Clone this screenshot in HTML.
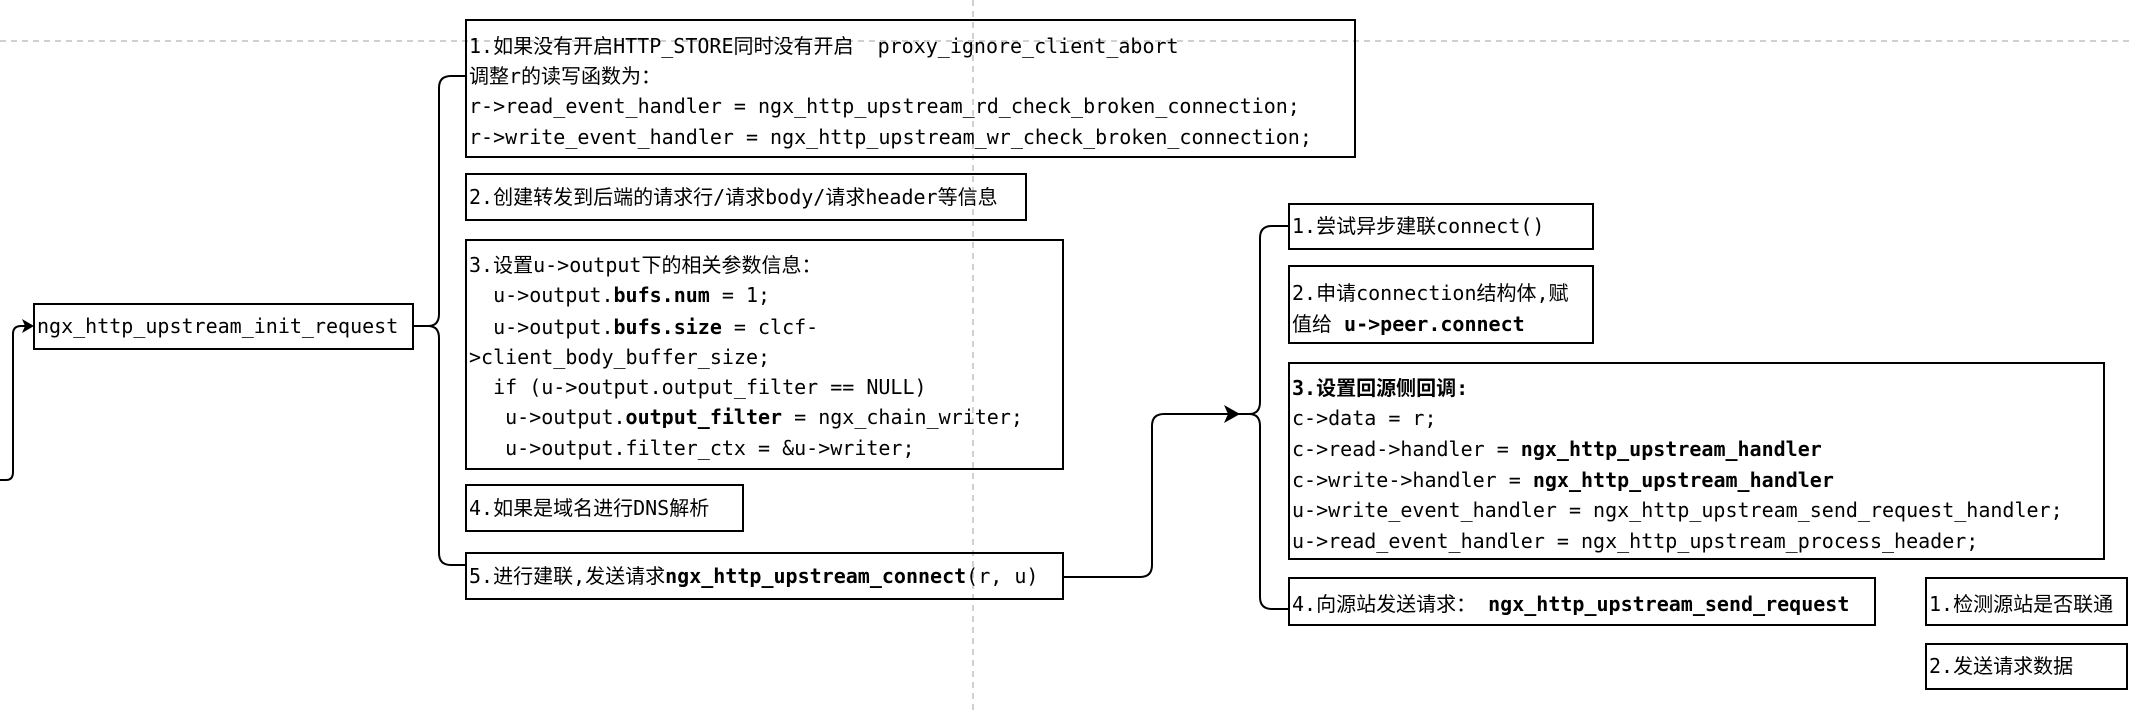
<!DOCTYPE html>
<html><head><meta charset="utf-8"><style>
html,body{margin:0;padding:0;background:#fff;}
svg{display:block;}
text{font-family:"DejaVu Sans Mono","Noto Sans CJK SC",monospace;font-size:20px;fill:#000;white-space:pre;}
.b{font-weight:bold;}
rect{fill:none;stroke:#000;stroke-width:2;}
path.c{fill:none;stroke:#000;stroke-width:2;}
</style></head><body>
<svg width="2130" height="712" viewBox="0 0 2130 712" xmlns="http://www.w3.org/2000/svg" xml:space="preserve">
<!-- dashed guides -->
<line x1="0" y1="41" x2="2130" y2="41" stroke="#c0c0c0" stroke-width="1.5" stroke-dasharray="6 5"/>
<line x1="973" y1="0" x2="973" y2="712" stroke="#c0c0c0" stroke-width="1.5" stroke-dasharray="6 5"/>

<!-- incoming left connector -->
<path class="c" d="M0 480 L6 480 Q13 480 13 472 L13 334 Q13 326 21 326 L28 326"/>
<path d="M34 326 L22 319 L25 326 L22 333 Z" fill="#000"/>

<!-- left node -->
<rect x="34" y="304" width="379" height="45"/>
<text x="37" y="333">ngx_http_upstream_init_request</text>

<!-- left bracket -->
<path class="c" d="M413 326 L428 326 Q439 326 439 314 L439 88 Q439 76 451 76 L466 76"/>
<path class="c" d="M428 326 Q439 326 439 338 L439 553 Q439 565 451 565 L466 565"/>

<!-- box1 -->
<rect x="466" y="20" width="889" height="137"/>
<text x="469" y="53">1.如果没有开启HTTP_STORE同时没有开启  proxy_ignore_client_abort</text>
<text x="469" y="83">调整r的读写函数为：</text>
<text x="469" y="113">r-&gt;read_event_handler = ngx_http_upstream_rd_check_broken_connection;</text>
<text x="469" y="144">r-&gt;write_event_handler = ngx_http_upstream_wr_check_broken_connection;</text>

<!-- box2 -->
<rect x="466" y="174" width="560" height="46"/>
<text x="469" y="204">2.创建转发到后端的请求行/请求body/请求header等信息</text>

<!-- box3 -->
<rect x="466" y="240" width="597" height="229"/>
<text x="469" y="272">3.设置u-&gt;output下的相关参数信息：</text>
<text x="469" y="302">  u-&gt;output.<tspan class="b">bufs.num</tspan> = 1;</text>
<text x="469" y="334">  u-&gt;output.<tspan class="b">bufs.size</tspan> = clcf-</text>
<text x="469" y="364">&gt;client_body_buffer_size;</text>
<text x="469" y="394">  if (u-&gt;output.output_filter == NULL)</text>
<text x="469" y="424">   u-&gt;output.<tspan class="b">output_filter</tspan> = ngx_chain_writer;</text>
<text x="469" y="455">   u-&gt;output.filter_ctx = &amp;u-&gt;writer;</text>

<!-- box4 -->
<rect x="466" y="485" width="277" height="46"/>
<text x="469" y="515">4.如果是域名进行DNS解析</text>

<!-- box5 -->
<rect x="466" y="553" width="597" height="46"/>
<text x="469" y="583">5.进行建联,发送请求<tspan class="b">ngx_http_upstream_connect</tspan>(r, u)</text>

<!-- connector box5 -> right -->
<path class="c" d="M1063 577 L1140 577 Q1152 577 1152 565 L1152 426 Q1152 414 1164 414 L1230 414"/>
<path d="M1240 414 L1224 405 L1228 414 L1224 423 Z" fill="#000"/>

<!-- right bracket -->
<path class="c" d="M1238 414 L1249 414 Q1260 414 1260 402 L1260 238 Q1260 226 1272 226 L1289 226"/>
<path class="c" d="M1249 414 Q1260 414 1260 426 L1260 597 Q1260 609 1272 609 L1289 609"/>

<!-- right boxes -->
<rect x="1289" y="204" width="304" height="45"/>
<text x="1292" y="233">1.尝试异步建联connect()</text>

<rect x="1289" y="266" width="304" height="77"/>
<text x="1292" y="300">2.申请connection结构体,赋</text>
<text x="1292" y="331">值给 <tspan class="b">u-&gt;peer.connect</tspan></text>

<rect x="1289" y="363" width="815" height="196"/>
<text x="1292" y="395" class="b">3.设置回源侧回调:</text>
<text x="1292" y="425">c-&gt;data = r;</text>
<text x="1292" y="456">c-&gt;read-&gt;handler = <tspan class="b">ngx_http_upstream_handler</tspan></text>
<text x="1292" y="487">c-&gt;write-&gt;handler = <tspan class="b">ngx_http_upstream_handler</tspan></text>
<text x="1292" y="517">u-&gt;write_event_handler = ngx_http_upstream_send_request_handler;</text>
<text x="1292" y="548">u-&gt;read_event_handler = ngx_http_upstream_process_header;</text>

<rect x="1289" y="578" width="586" height="47"/>
<text x="1292" y="611">4.向源站发送请求： <tspan class="b">ngx_http_upstream_send_request</tspan></text>

<rect x="1926" y="578" width="201" height="47"/>
<text x="1929" y="611">1.检测源站是否联通</text>

<rect x="1926" y="644" width="201" height="45"/>
<text x="1929" y="673">2.发送请求数据</text>
</svg>
</body></html>
